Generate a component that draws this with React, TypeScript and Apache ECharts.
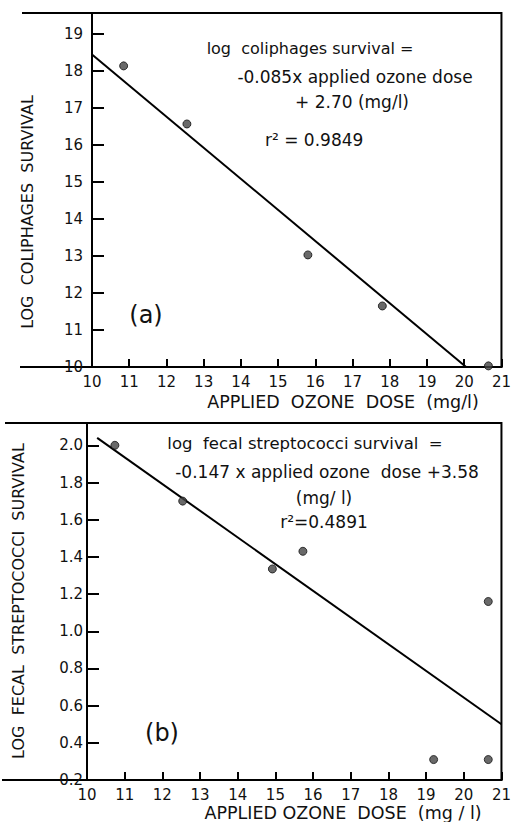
import React, { useEffect, useRef } from "react";
import * as echarts from "echarts";

// Panel (a): coliphages
const doseA = [10.85, 12.55, 15.8, 17.8, 20.65];
const logColiphages = [18.14, 16.57, 13.03, 11.65, 10.03];
const fitAx = [10, 20.05];
const fitAy = [18.45, 10.0];

// Panel (b): fecal streptococci
const doseB = [10.74, 12.54, 14.92, 15.73, 19.2, 20.65, 20.65];
const logFecal = [2.0, 1.7, 1.335, 1.43, 0.31, 0.31, 1.16];
const fitBx = [10.27, 21];
const fitBy = [2.04, 0.5];

const eqA = ["log  coliphages survival =", "-0.085x applied ozone dose", "+ 2.70 (mg/l)", "r² = 0.9849"];
const eqB = ["log  fecal streptococci survival  =", "-0.147 x applied ozone  dose +3.58", "(mg/ l)", "r²=0.4891"];
const xTitleA = "APPLIED  OZONE  DOSE  (mg/l)";
const xTitleB = "APPLIED OZONE  DOSE  (mg / l)";
const yTitleA = "LOG  COLIPHAGES  SURVIVAL";
const yTitleB = "LOG  FECAL  STREPTOCOCCI  SURVIVAL";

const FONT = "'DejaVu Sans'";

export default function App() {
  const ref = useRef<HTMLDivElement>(null);
  useEffect(() => {
    if (!ref.current) return;
    const chart = echarts.init(ref.current, null, { renderer: "svg" });
    const axisCommon = {
      axisLine: { show: true, lineStyle: { color: "#000", width: 2 } },
      splitLine: { show: false },
    };
    const txt = (text: string, x: number, y: number, size = 14, align = "center", rot = 0) => ({
      type: "text",
      x,
      y,
      rotation: rot,
      style: { text, fill: "#111", font: `${size}px ${FONT}`, align, verticalAlign: "middle" },
    });
    const line = (x1: number, y1: number, x2: number, y2: number) => ({
      type: "line",
      shape: { x1, y1, x2, y2 },
      style: { stroke: "#000", lineWidth: 2 },
    });
    chart.setOption({
      animation: false,
      backgroundColor: "#fff",
      grid: [
        { left: 92, top: 13, width: 418, height: 354, show: true, borderColor: "#000", borderWidth: 2 },
        { left: 87, top: 423, width: 420, height: 357, show: true, borderColor: "#000", borderWidth: 2 },
      ],
      xAxis: [0, 1].map((i) => ({
        ...axisCommon,
        type: "value",
        gridIndex: i,
        min: 10,
        max: 21,
        interval: 1,
        axisTick: { show: true, inside: true, length: 8, lineStyle: { color: "#000", width: 2 } },
        axisLabel: { color: "#111", fontFamily: FONT, fontSize: 15, margin: 7, showMaxLabel: true },
      })),
      yAxis: [
        {
          ...axisCommon,
          type: "value",
          gridIndex: 0,
          min: 10,
          max: 19.57,
          interval: 1,
          axisTick: { show: true, inside: true, length: 12, lineStyle: { color: "#000", width: 2 } },
          axisLabel: {
            color: "#111",
            fontFamily: FONT,
            fontSize: 15,
            margin: 9,
            formatter: (v: number) => (Math.abs(v - Math.round(v)) < 1e-6 ? String(Math.round(v)) : ""),
          },
        },
        {
          ...axisCommon,
          type: "value",
          gridIndex: 1,
          min: 0.2,
          max: 2.12,
          interval: 0.2,
          axisTick: { show: true, inside: true, length: 12, lineStyle: { color: "#000", width: 2 } },
          axisLabel: {
            color: "#111",
            fontFamily: FONT,
            fontSize: 15,
            margin: 4,
            formatter: (v: number) => (Math.abs(v * 5 - Math.round(v * 5)) < 1e-6 ? v.toFixed(1) : ""),
          },
        },
      ],
      series: [
        {
          type: "line",
          xAxisIndex: 0,
          yAxisIndex: 0,
          data: fitAx.map((x, i) => [x, fitAy[i]]),
          symbol: "none",
          lineStyle: { color: "#000", width: 2 },
          z: 3,
        },
        {
          type: "scatter",
          xAxisIndex: 0,
          yAxisIndex: 0,
          data: doseA.map((x, i) => [x, logColiphages[i]]),
          symbolSize: 8,
          itemStyle: { color: "#444", borderColor: "#111", borderWidth: 1 },
          z: 4,
        },
        {
          type: "line",
          xAxisIndex: 1,
          yAxisIndex: 1,
          data: fitBx.map((x, i) => [x, fitBy[i]]),
          symbol: "none",
          lineStyle: { color: "#000", width: 2 },
          z: 3,
        },
        {
          type: "scatter",
          xAxisIndex: 1,
          yAxisIndex: 1,
          data: doseB.map((x, i) => [x, logFecal[i]]),
          symbolSize: 8,
          itemStyle: { color: "#444", borderColor: "#111", borderWidth: 1 },
          z: 4,
        },
      ],
      graphic: [
        line(22, 13, 92, 13),
        line(20, 367, 92, 367),
        line(5, 423, 87, 423),
        line(2, 780, 87, 780),
        txt(eqA[0], 310, 48, 16),
        txt(eqA[1], 355, 77, 17),
        txt(eqA[2], 352, 102, 17),
        txt(eqA[3], 265, 140, 17, "left"),
        txt("(a)", 146, 315, 24),
        txt(xTitleA, 343, 402, 17.5),
        txt(yTitleA, 27, 212, 16, "center", Math.PI / 2),
        txt(eqB[0], 305, 443, 16.5),
        txt(eqB[1], 327, 472, 17),
        txt(eqB[2], 324, 498, 17),
        txt(eqB[3], 324, 522, 17),
        txt("(b)", 162, 733, 24),
        txt(xTitleB, 343, 813, 17.5),
        txt(yTitleB, 18, 601, 16, "center", Math.PI / 2),
      ],
    });
    return () => chart.dispose();
  }, []);
  return <div ref={ref} style={{ position: "fixed", left: 0, top: 0, width: 514, height: 822 }} />;
}
